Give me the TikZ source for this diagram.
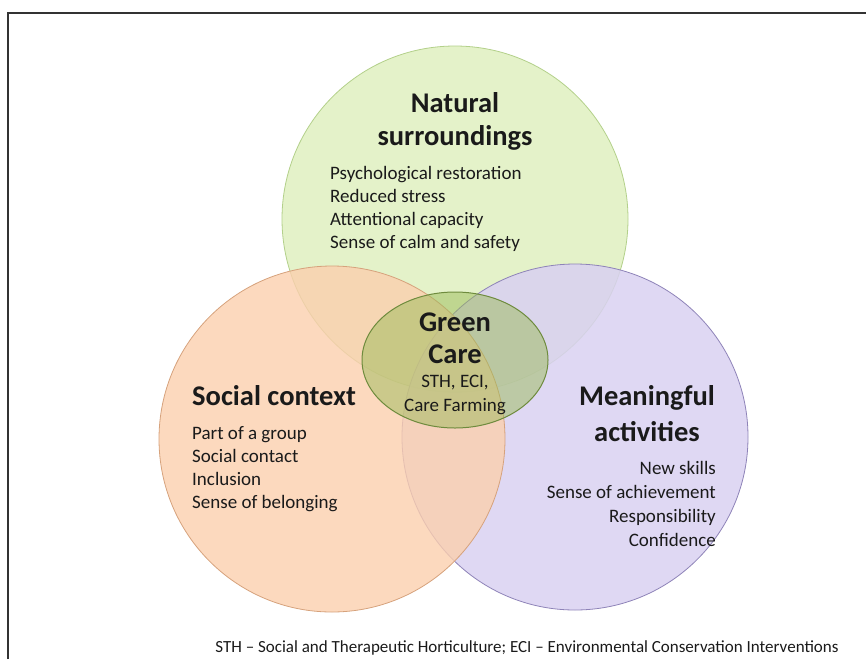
\documentclass[tikz,border=0pt]{standalone}
\usepackage{fontspec}
\setmainfont{Carlito}
\usetikzlibrary{shapes.geometric}
\definecolor{natfill}{HTML}{E4F2C9}
\definecolor{natline}{HTML}{B3D08A}
\definecolor{socfill}{HTML}{FBCFAE}
\definecolor{socline}{HTML}{D6A27C}
\definecolor{actfill}{HTML}{D9D1F1}
\definecolor{actline}{HTML}{8E83B8}
\definecolor{carefill}{HTML}{9BBB59}
\definecolor{careline}{HTML}{6E8B3D}
\definecolor{textcol}{HTML}{1A1A1A}
\tikzset{ring/.style={circle,minimum size=346pt,inner sep=0pt,line width=0.8pt},
         heading/.style={font=\fontsize{28.5}{33}\selectfont\bfseries,text=textcol,inner sep=0pt},
         items/.style={font=\fontsize{19}{23}\selectfont,text=textcol,inner sep=0pt},
         frame/.style={line width=1.6pt,draw=black!80},
         }
\begin{document}
\begin{tikzpicture}[x=1pt,y=-1pt]
		\useasboundingbox (0,0) rectangle (866,659);
		\draw[frame] (8,659) -- (8,13) -- (866,13);
		% the three circles
		\node[ring,fill=natfill,draw=natline] (nature) at (455,219) {};
		\node[ring,fill=actfill,draw=actline,fill opacity=0.85] (activity) at (575,437) {};
		\node[ring,fill=socfill,draw=socline,fill opacity=0.8] (social) at (332,439) {};
		% centre
		\node[ellipse,minimum width=186pt,minimum height=136pt,fill=carefill,fill opacity=0.5,draw=careline,line width=1pt] (care) at (455,360) {};
		% texts
		\node[heading,align=center] (natTitle) at (455,121.5) {Natural\\surroundings};
		\node[items,align=left,anchor=west] (natList) at (330,208.5) {Psychological restoration\\Reduced stress\\Attentional capacity\\Sense of calm and safety};
		\node[heading,anchor=west] (socTitle) at (192,396) {Social context};
		\node[items,align=left,anchor=west] (socList) at (192,469) {Part of a group\\Social contact\\Inclusion\\Sense of belonging};
		\node[heading,align=center,font=\fontsize{28.5}{36}\selectfont\bfseries] (actTitle) at (647,414) {Meaningful\\activities};
		\node[items,align=right,anchor=east,font=\fontsize{19}{24}\selectfont] (actList) at (716,504) {New skills\\Sense of achievement\\Responsibility\\Confidence};
		\node[heading,align=center,font=\fontsize{28.5}{32}\selectfont\bfseries] (careTitle) at (455,338) {Green\\Care};
		\node[items,align=center,font=\fontsize{19}{24}\selectfont] (careList) at (455,395) {STH, ECI,\\Care Farming};
		\node[inner sep=0pt,font=\fontsize{17}{18}\selectfont,text=textcol] (note) at (527,648) {STH -- Social and Therapeutic Horticulture; ECI -- Environmental Conservation Interventions};
\end{tikzpicture}
\end{document}
